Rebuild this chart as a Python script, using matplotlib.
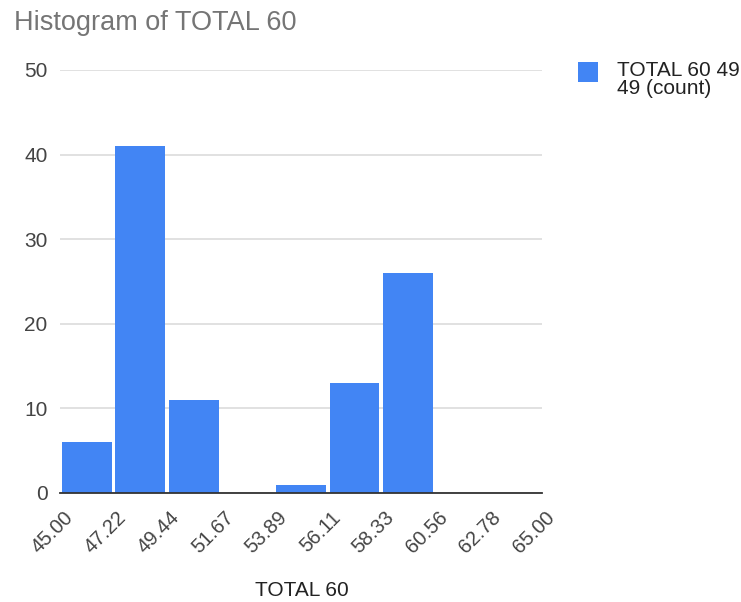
import matplotlib
matplotlib.use("Agg")
import matplotlib.pyplot as plt
import matplotlib.transforms as mtransforms
from matplotlib.patches import Rectangle

# Data
bin_edges = [45.00, 47.22, 49.44, 51.67, 53.89, 56.11, 58.33, 60.56, 62.78, 65.00]
tick_labels = ["45.00", "47.22", "49.44", "51.67", "53.89", "56.11", "58.33", "60.56", "62.78", "65.00"]
counts = [6, 41, 11, 0, 1, 13, 26, 0, 0]
series_label = "TOTAL 60 49\n49 (count)"
title = "Histogram of TOTAL 60"
x_title = "TOTAL 60"
y_ticks = [0, 10, 20, 30, 40, 50]

BLUE = "#4285F4"
plt.rcParams['font.family'] = ['Liberation Sans', 'DejaVu Sans']

W, H = 741, 602
fig = plt.figure(figsize=(W/100, H/100), dpi=100)
ax = fig.add_axes([60/W, 1-493/H, 482/W, 423/H])

centers = [(bin_edges[i] + bin_edges[i+1]) / 2 for i in range(len(counts))]
widths = [(bin_edges[i+1] - bin_edges[i]) * 0.93 for i in range(len(counts))]
ax.bar(centers, counts, width=widths, color=BLUE, zorder=3)

ax.set_xlim(bin_edges[0], bin_edges[-1])
ax.set_ylim(0, 50)
ax.set_yticks(y_ticks)
ax.set_yticklabels([str(v) for v in y_ticks], fontsize=15, color="#444444")
ax.yaxis.grid(True, color="#dcdcdc", linewidth=1.2, zorder=0)
ax.tick_params(axis='both', length=0)
ax.tick_params(axis='y', pad=9)

ax.set_xticks(bin_edges)
ax.set_xticklabels(tick_labels, rotation=45, ha='right', rotation_mode='anchor',
                   fontsize=14.5, color="#444444")
offset = mtransforms.ScaledTranslation(3/100, -10/100, fig.dpi_scale_trans)
for lbl in ax.get_xticklabels():
    lbl.set_transform(lbl.get_transform() + offset)

for s in ['top', 'right', 'left']:
    ax.spines[s].set_visible(False)
ax.spines['bottom'].set_color("#333333")
ax.spines['bottom'].set_linewidth(1.3)
ax.spines['bottom'].set_zorder(4)

fig.text(14/W, 1-30/H, title, fontsize=19.5, color="#757575", va='baseline', ha='left')
fig.text(302/W, 1-590/H, x_title, fontsize=15, color="#222222", ha='center', va='center')

# Legend
fig.patches.append(Rectangle((578/W, 1-82/H), 20/W, 20/H, transform=fig.transFigure,
                             facecolor=BLUE, edgecolor='none'))
fig.text(617/W, 1-61/H, series_label, fontsize=15, color="#222222", ha='left', va='top',
         linespacing=0.95)

fig.savefig("out.png", dpi=100)
